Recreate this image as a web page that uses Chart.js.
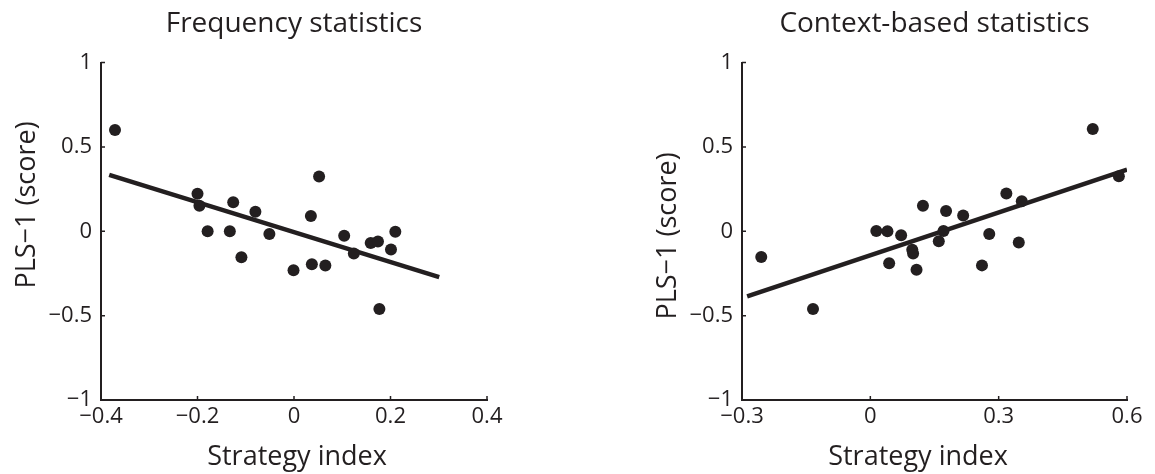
<!DOCTYPE html>
<html>
<head>
<meta charset="utf-8">
<script src="https://cdn.jsdelivr.net/npm/chart.js@4.4.1/dist/chart.umd.min.js"></script>
<style>
  body { margin: 0; background: #fff; }
  .panel { position: absolute; top: 0; height: 474px; }
  #left { left: 0; width: 577px; }
  #right { left: 577px; width: 578px; }
</style>
</head>
<body>
<div class="panel" id="left"><canvas id="freqChart"></canvas></div>
<div class="panel" id="right"><canvas id="ctxChart"></canvas></div>
<script>
/* ---- data ---- */
const freqX = [-0.371, -0.200, -0.196, -0.179, -0.126, -0.133, -0.109, -0.080, -0.051, -0.001, 0.035,
               0.052, 0.037, 0.065, 0.104, 0.124, 0.159, 0.174, 0.201, 0.210, 0.177];
const freqY = [0.600, 0.223, 0.152, 0.000, 0.172, 0.000, -0.154, 0.116, -0.016, -0.231, 0.091,
               0.325, -0.195, -0.203, -0.026, -0.132, -0.069, -0.061, -0.108, -0.002, -0.460];
const freqFitX = [-0.383, 0.301];
const freqFitY = [0.335, -0.272];
const freqXTicks = [-0.4, -0.2, 0, 0.2, 0.4];

const ctxX = [-0.255, -0.134, 0.014, 0.040, 0.072, 0.044, 0.098, 0.100, 0.108, 0.123, 0.160,
              0.171, 0.177, 0.217, 0.261, 0.278, 0.318, 0.347, 0.354, 0.520, 0.581];
const ctxY = [-0.152, -0.461, 0.002, 0.000, -0.024, -0.190, -0.109, -0.131, -0.228, 0.152, -0.059,
              0.002, 0.121, 0.093, -0.202, -0.016, 0.224, -0.067, 0.178, 0.606, 0.327];
const ctxFitX = [-0.288, 0.600];
const ctxFitY = [-0.386, 0.366];
const ctxXTicks = [-0.3, 0, 0.3, 0.6];

const yTicks = [-1, -0.5, 0, 0.5, 1];

const INK = '#231f20';
const FONT = "'Open Sans', sans-serif";

Chart.defaults.font.family = FONT;
Chart.defaults.color = INK;

const fmt = v => (v < 0 ? '\u2212' : '') + Math.abs(v);
const toPoints = (xs, ys) => xs.map((x, i) => ({ x, y: ys[i] }));

/* inward tick marks + axis labels placed like the original */
const axisDecor = {
  id: 'axisDecor',
  afterDraw(chart, args, opts) {
    const { ctx, chartArea: a, scales: { x, y } } = chart;
    ctx.save();
    ctx.strokeStyle = INK;
    ctx.lineWidth = 1.5;
    ctx.beginPath();
    x.ticks.forEach(t => {
      const px = x.getPixelForValue(t.value);
      ctx.moveTo(px, a.bottom);
      ctx.lineTo(px, a.bottom - 4);
    });
    y.ticks.forEach(t => {
      const py = y.getPixelForValue(t.value);
      ctx.moveTo(a.left, py);
      ctx.lineTo(a.left + 4, py);
    });
    ctx.stroke();

    ctx.fillStyle = INK;
    ctx.font = `27px ${FONT}`;
    ctx.textAlign = 'center';
    ctx.textBaseline = 'middle';
    ctx.fillText(opts.xLabel.text, opts.xLabel.cx, opts.xLabel.cy);
    ctx.translate(opts.yLabel.cx, opts.yLabel.cy);
    ctx.rotate(-Math.PI / 2);
    ctx.fillText(opts.yLabel.text, 0, 0);
    ctx.restore();
  }
};

function makeScatter(canvasId, cfg) {
  const el = document.getElementById(canvasId);
  if (!el) return;
  return new Chart(el, {
    type: 'scatter',
    data: {
      datasets: [{
        data: toPoints(cfg.xs, cfg.ys),
        backgroundColor: INK,
        borderWidth: 0,
        pointRadius: 6,
        pointHoverRadius: 6,
      }, {
        type: 'line',
        data: toPoints(cfg.fitX, cfg.fitY),
        borderColor: INK,
        borderWidth: 4.5,
        pointRadius: 0,
        fill: false,
        tension: 0,
      }]
    },
    options: {
      responsive: true, maintainAspectRatio: false, animation: false,
      layout: { padding: { left: 0, right: cfg.padRight, top: 0, bottom: 0 } },
      plugins: {
        legend: { display: false },
        tooltip: { enabled: false },
        title: {
          display: true, text: cfg.title, fullSize: false, color: INK,
          font: { size: 28, weight: 'normal' }, padding: { top: 7, bottom: 22 }
        },
        axisDecor: { xLabel: cfg.xLabel, yLabel: cfg.yLabel },
      },
      scales: {
        x: {
          type: 'linear',
          min: cfg.xTicks[0], max: cfg.xTicks[cfg.xTicks.length - 1],
          afterBuildTicks: s => { s.ticks = cfg.xTicks.map(v => ({ value: v })); },
          afterFit: s => { s.height = 74; },
          grid: { display: false, drawTicks: false },
          border: { color: INK, width: 2 },
          ticks: { callback: fmt, padding: 4, font: { size: 22 }, color: INK, maxRotation: 0, autoSkip: false },
        },
        y: {
          min: yTicks[0], max: yTicks[yTicks.length - 1],
          afterBuildTicks: s => { s.ticks = yTicks.map(v => ({ value: v })); },
          afterFit: s => { s.width = cfg.yWidth; },
          grid: { display: false, drawTicks: false },
          border: { color: INK, width: 2 },
          ticks: { callback: fmt, padding: 9, font: { size: 22 }, color: INK, autoSkip: false },
        }
      }
    },
    plugins: [axisDecor]
  });
}

makeScatter('freqChart', {
  title: 'Frequency statistics',
  xs: freqX, ys: freqY, fitX: freqFitX, fitY: freqFitY, xTicks: freqXTicks,
  yWidth: 101, padRight: 90,
  xLabel: { text: 'Strategy index', cx: 297, cy: 457 },
  yLabel: { text: 'PLS\u22121 (score)', cx: 27, cy: 205 },
});

makeScatter('ctxChart', {
  title: 'Context-based statistics',
  xs: ctxX, ys: ctxY, fitX: ctxFitX, fitY: ctxFitY, xTicks: ctxXTicks,
  yWidth: 165, padRight: 28,
  xLabel: { text: 'Strategy index', cx: 341, cy: 457 },
  yLabel: { text: 'PLS\u22121 (score)', cx: 91, cy: 236 },
});
</script>
</body>
</html>
